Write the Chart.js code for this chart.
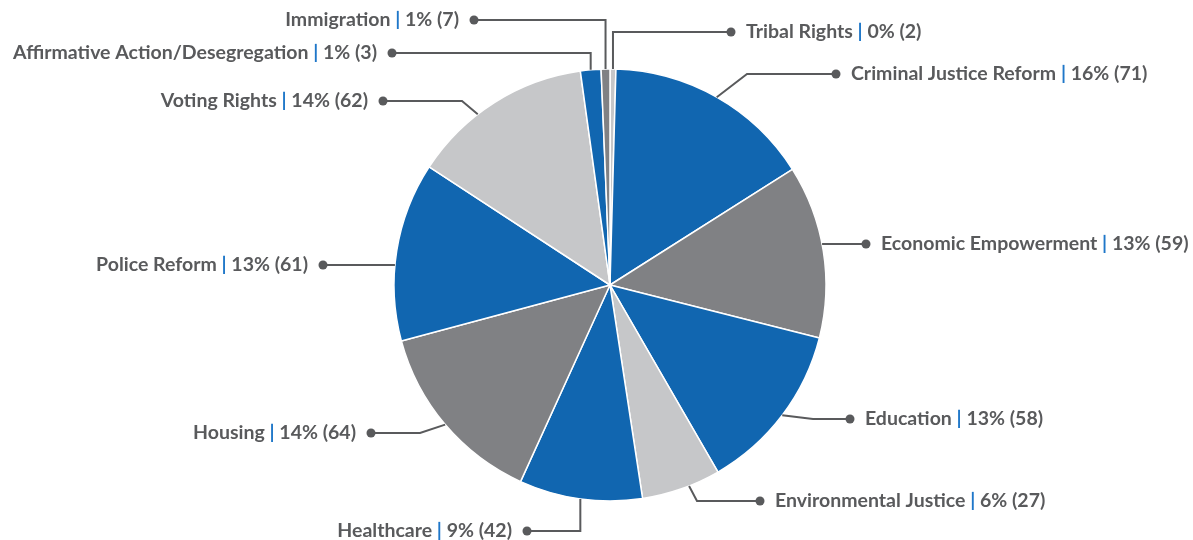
<!DOCTYPE html>
<html>
<head>
<meta charset="utf-8">
<script src="https://cdn.jsdelivr.net/npm/chart.js@4.4.1/dist/chart.umd.min.js"></script>
<style>
  html, body { margin: 0; padding: 0; background: #fff; }
  #wrap { width: 1193px; height: 540px; position: relative; }
</style>
</head>
<body>
<div id="wrap"><canvas id="chartIsu"></canvas></div>
<script>
// ===== DATA =====
const categories = [
  "Tribal Rights",
  "Criminal Justice Reform",
  "Economic Empowerment",
  "Education",
  "Environmental Justice",
  "Healthcare",
  "Housing",
  "Police Reform",
  "Voting Rights",
  "Immigration",
  "Affirmative Action/Desegregation"
];
const counts = [2, 71, 59, 58, 27, 42, 64, 61, 62, 7, 3];
const percents = [0, 16, 13, 13, 6, 9, 14, 13, 14, 1, 1];

// ===== STYLE =====
const BLUE = "#1166b0";
const DARK = "#808184";
const LIGHT = "#c6c7c9";
const sliceColors = [LIGHT, BLUE, DARK, BLUE, LIGHT, BLUE, DARK, BLUE, LIGHT, BLUE, DARK];
const TEXT = "#595a5c";
const SEP = "#1f77c9";
const FONT = "bold 19.5px Lato";

// label placement, relative to pie centre
// type: h = straight across, v = vertical then across, d = bent line
const labelLayout = [
  { type: "v", side: 1,  dy: -253, dotDx: 121 },
  { type: "d", side: 1,  dy: -211, dotDx: 226, elbowDx: 137, frac: 0.5 },
  { type: "h", side: 1,  dy: -41,  dotDx: 256 },
  { type: "d", side: 1,  dy: 134,  dotDx: 240, elbowDx: 203, frac: 0.5 },
  { type: "d", side: 1,  dy: 216,  dotDx: 150, elbowDx: 87,  frac: 0.4 },
  { type: "v", side: -1, dy: 246,  dotDx: -83 },
  { type: "d", side: -1, dy: 148,  dotDx: -239, elbowDx: -190, frac: 0.5 },
  { type: "h", side: -1, dy: -20,  dotDx: -287 },
  { type: "d", side: -1, dy: -184, dotDx: -227, elbowDx: -148, frac: 0.39 },
  { type: "v", side: -1, dy: -265, dotDx: -136 },
  { type: "v", side: -1, dy: -232, dotDx: -218 }
];

function anchorAt(arc, frac) {
  const a = arc.startAngle + (arc.endAngle - arc.startAngle) * frac;
  return { x: arc.x + Math.cos(a) * arc.outerRadius, y: arc.y + Math.sin(a) * arc.outerRadius };
}

// ===== LABEL PLUGIN =====
const outsideLabels = {
  id: "outsideLabels",
  afterDatasetsDraw(chart) {
    const ctx = chart.ctx;
    const arcs = chart.getDatasetMeta(0).data;
    const cx = arcs[0].x, cy = arcs[0].y, R = arcs[0].outerRadius;

    // anchors on the pie edge
    const anchors = arcs.map((arc, i) => {
      const L = labelLayout[i];
      if (L.type === "h") {
        const y = cy + L.dy;
        return { x: cx + L.side * Math.sqrt(R * R - L.dy * L.dy), y: y };
      }
      return anchorAt(arc, L.frac || 0.5);
    });

    // vertical connectors in one group must not cross
    const groups = {};
    labelLayout.forEach((L, i) => {
      if (L.type !== "v") return;
      const key = L.side + (L.dy < 0 ? "t" : "b");
      (groups[key] = groups[key] || []).push(i);
    });
    const vAnchor = {};
    Object.values(groups).forEach(idx => {
      const byLabel = idx.slice().sort((a, b) => Math.abs(labelLayout[b].dy) - Math.abs(labelLayout[a].dy));
      const byAnchor = idx.slice().sort((a, b) => Math.abs(anchors[a].x - cx) - Math.abs(anchors[b].x - cx));
      byLabel.forEach((li, k) => { vAnchor[li] = anchors[byAnchor[k]]; });
    });

    ctx.save();
    ctx.strokeStyle = TEXT;
    ctx.fillStyle = TEXT;
    ctx.lineWidth = 2;
    ctx.font = FONT;
    ctx.textBaseline = "middle";

    labelLayout.forEach((L, i) => {
      const ly = cy + L.dy;
      const dot = { x: cx + L.dotDx, y: ly };
      let a = anchors[i];

      ctx.beginPath();
      if (L.type === "h") {
        ctx.moveTo(a.x, a.y);
      } else if (L.type === "v") {
        a = vAnchor[i];
        ctx.moveTo(a.x, a.y);
        ctx.lineTo(a.x, ly);
      } else {
        ctx.moveTo(a.x, a.y);
        ctx.lineTo(cx + L.elbowDx, ly);
      }
      ctx.lineTo(dot.x, dot.y);
      ctx.stroke();

      ctx.beginPath();
      ctx.arc(dot.x, dot.y, 4.5, 0, Math.PI * 2);
      ctx.fill();

      // text: name | pct% (count)
      const parts = [
        [categories[i] + " ", TEXT],
        ["|", SEP],
        [" " + percents[i] + "% (" + counts[i] + ")", TEXT]
      ];
      const total = parts.reduce((s, p) => s + ctx.measureText(p[0]).width, 0);
      let x = L.side > 0 ? dot.x + 15 : dot.x - 15 - total;
      ctx.textAlign = "left";
      parts.forEach(p => {
        ctx.fillStyle = p[1];
        ctx.fillText(p[0], x, ly);
        x += ctx.measureText(p[0]).width;
      });
      ctx.fillStyle = TEXT;
    });
    ctx.restore();
  }
};

// ===== CHART =====
new Chart(document.getElementById("chartIsu"), {
  type: "pie",
  data: {
    labels: categories,
    datasets: [{
      data: counts,
      backgroundColor: sliceColors,
      borderColor: "#ffffff",
      borderWidth: 1.5,
      hoverOffset: 0,
      radius: 216
    }]
  },
  options: {
    responsive: true,
    maintainAspectRatio: false,
    animation: false,
    layout: { padding: { left: 394, right: 367, top: 69, bottom: 39 } },
    plugins: {
      legend: { display: false },
      tooltip: { enabled: false }
    }
  },
  plugins: [outsideLabels]
});
</script>
</body>
</html>
